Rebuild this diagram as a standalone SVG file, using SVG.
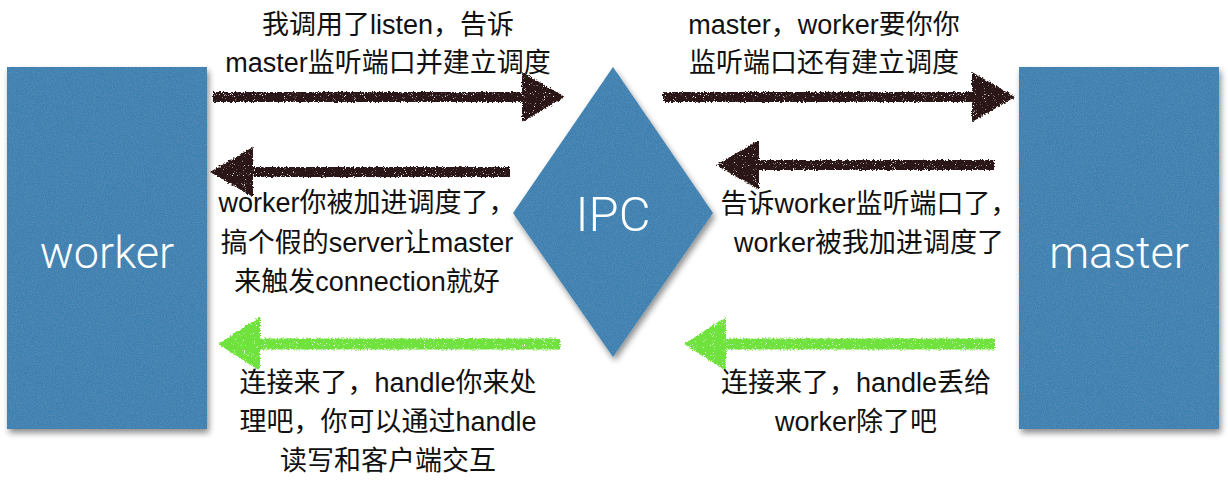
<svg xmlns="http://www.w3.org/2000/svg" width="1228" height="490" viewBox="0 0 1228 490">
<defs>
<style>
.node{fill:#3a80b0;}
.nlabel{font-family:Roboto,"Liberation Sans",sans-serif;font-weight:300;fill:#ffffff;text-anchor:middle;}
.elabel{font-family:"Liberation Sans","Noto Sans CJK SC",sans-serif;font-size:27px;fill:#111111;text-anchor:middle;}
.dark{stroke:#2a1412;stroke-width:10;fill:none;}
.green{stroke:#70e23c;stroke-width:11;fill:none;}
</style>
<filter id="shadow" x="-10%" y="-10%" width="125%" height="125%">
<feTurbulence type="fractalNoise" baseFrequency="0.9" numOctaves="2" seed="4" result="n"/>
<feColorMatrix in="n" type="matrix" values="0 0 0 0 1  0 0 0 0 1  0 0 0 0 1  0.12 0 0 0 -0.04" result="w"/>
<feComposite in="w" in2="SourceAlpha" operator="in" result="tex"/>
<feGaussianBlur in="SourceAlpha" stdDeviation="3" result="b"/>
<feOffset in="b" dx="2" dy="4" result="o"/>
<feComponentTransfer in="o" result="sh"><feFuncA type="linear" slope="0.45"/></feComponentTransfer>
<feMerge><feMergeNode in="sh"/><feMergeNode in="SourceGraphic"/><feMergeNode in="tex"/></feMerge>
</filter>
<filter id="chalk" x="-5%" y="-10%" width="110%" height="120%">
<feTurbulence type="fractalNoise" baseFrequency="0.6" numOctaves="2" seed="2" result="t"/>
<feDisplacementMap in="SourceGraphic" in2="t" scale="4" xChannelSelector="R" yChannelSelector="G" result="d"/>
<feTurbulence type="fractalNoise" baseFrequency="1.1" numOctaves="1" seed="9" result="s"/>
<feColorMatrix in="s" type="matrix" values="0 0 0 0 0  0 0 0 0 0  0 0 0 0 0  -10 0 0 0 7.5" result="holes"/>
<feComposite in="d" in2="holes" operator="in"/>
</filter>
<marker id="headDark" markerUnits="userSpaceOnUse" markerWidth="46" markerHeight="52" refX="1" refY="26" orient="auto">
<path d="M0,1 L43,26 L0,51 Z" fill="#2a1412"/>
</marker>
<marker id="headGreen" markerUnits="userSpaceOnUse" markerWidth="46" markerHeight="56" refX="1" refY="28" orient="auto">
<path d="M0,1 L42,28 L0,55 Z" fill="#70e23c"/>
</marker>
</defs>
<rect width="1228" height="490" fill="#ffffff"/>

<g id="worker">
<rect class="node" x="7" y="67" width="200" height="362" filter="url(#shadow)"/>
<text class="nlabel" x="107" y="268" font-size="45">worker</text>
</g>
<g id="master">
<rect class="node" x="1019" y="67" width="200" height="362" filter="url(#shadow)"/>
<text class="nlabel" x="1119" y="268" font-size="45">master</text>
</g>
<g id="ipc">
<polygon class="node" points="613,67 713,213 613,357 513,213" filter="url(#shadow)"/>
<text class="nlabel" x="613" y="231" font-size="49">IPC</text>
</g>

<g id="connectors" filter="url(#chalk)">
<path class="dark" d="M213,97 L523,97" marker-end="url(#headDark)"/>
<path class="dark" d="M663,97 L973,97" marker-end="url(#headDark)"/>
<path class="dark" d="M510,172 L252,172" marker-end="url(#headDark)"/>
<path class="dark" d="M994,165 L758,165" marker-end="url(#headDark)"/>
<path class="green" d="M560,344 L259,344" marker-end="url(#headGreen)"/>
<path class="green" d="M995,344 L725,344" marker-end="url(#headGreen)"/>
</g>

<g id="labels">
<text class="elabel" x="388" y="34">我调用了listen，告诉</text>
<text class="elabel" x="388" y="72">master监听端口并建立调度</text>
<text class="elabel" x="824" y="34">master，worker要你你</text>
<text class="elabel" x="824" y="72">监听端口还有建立调度</text>
<text class="elabel" x="367" y="212">worker你被加进调度了，</text>
<text class="elabel" x="367" y="252">搞个假的server让master</text>
<text class="elabel" x="367" y="291">来触发connection就好</text>
<text class="elabel" x="869" y="213">告诉worker监听端口了，</text>
<text class="elabel" x="869" y="252">worker被我加进调度了</text>
<text class="elabel" x="388" y="392">连接来了，handle你来处</text>
<text class="elabel" x="388" y="431">理吧，你可以通过handle</text>
<text class="elabel" x="388" y="470">读写和客户端交互</text>
<text class="elabel" x="856" y="392">连接来了，handle丢给</text>
<text class="elabel" x="856" y="431">worker除了吧</text>
</g>
</svg>
